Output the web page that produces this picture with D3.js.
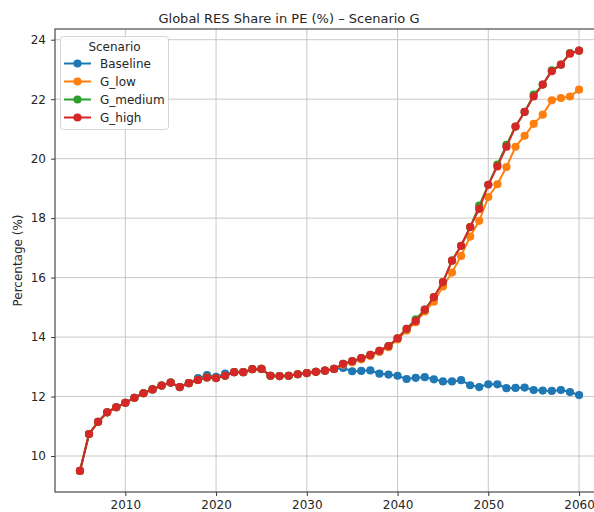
<!DOCTYPE html>
<html>
<head>
<meta charset="utf-8">
<script src="https://cdn.jsdelivr.net/npm/d3@7/dist/d3.min.js"></script>
<style>
  html, body { margin: 0; padding: 0; background: #fff; }
  svg { display: block; font-family: "DejaVu Sans", sans-serif; }
</style>
</head>
<body>
<svg id="chart" width="594" height="512"></svg>
<script>
// ---------------- DATA ----------------
const years = d3.range(2005, 2061);

const common = [9.50, 10.74, 11.15, 11.47, 11.64, 11.79, 11.96, 12.11, 12.24, 12.37,
  12.47, 12.32, 12.45, 12.56, 12.64, 12.62, 12.70, 12.82, 12.82, 12.92,
  12.93, 12.70, 12.69, 12.70, 12.75, 12.79, 12.83, 12.87, 12.93];

const baseline = [9.50, 10.74, 11.15, 11.47, 11.64, 11.79, 11.96, 12.11, 12.24, 12.37,
  12.47, 12.32, 12.45, 12.62, 12.72, 12.66, 12.77, 12.82, 12.82, 12.92,
  12.93, 12.70, 12.69, 12.70, 12.75, 12.79, 12.83, 12.87, 12.93,
  12.96, 12.85, 12.86, 12.88, 12.77, 12.74, 12.70, 12.59, 12.63, 12.65,
  12.58, 12.51, 12.51, 12.55, 12.38, 12.32, 12.41, 12.41, 12.28, 12.29,
  12.30, 12.22, 12.20, 12.19, 12.22, 12.15, 12.05];

const gLow = common.concat([13.07, 13.15, 13.25, 13.36, 13.50, 13.66, 13.92, 14.22, 14.50,
  14.86, 15.19, 15.70, 16.17, 16.73, 17.38, 17.91, 18.71, 19.14, 19.72,
  20.40, 20.77, 21.17, 21.48, 21.96, 22.04, 22.09, 22.32]);

const gMedium = common.concat([13.10, 13.19, 13.29, 13.40, 13.54, 13.70, 13.96, 14.28, 14.60,
  14.92, 15.34, 15.85, 16.57, 17.07, 17.70, 18.42, 19.12, 19.80, 20.46,
  21.08, 21.57, 22.15, 22.49, 22.97, 23.16, 23.55, 23.63]);

const gHigh = common.concat([13.10, 13.19, 13.29, 13.40, 13.54, 13.70, 13.96, 14.28, 14.54,
  14.92, 15.34, 15.85, 16.57, 17.07, 17.70, 18.31, 19.12, 19.74, 20.40,
  21.08, 21.57, 22.09, 22.49, 22.94, 23.16, 23.53, 23.63]);

const seriesNames = ["Baseline", "G_low", "G_medium", "G_high"];
const seriesValues = [baseline, gLow, gMedium, gHigh];
const seriesColors = ["#1f77b4", "#ff7f0e", "#2ca02c", "#d62728"];

const xTicks = [2010, 2020, 2030, 2040, 2050, 2060];
const yTicks = [10, 12, 14, 16, 18, 20, 22, 24];

const titleText = "Global RES Share in PE (%) \u2013 Scenario G";
const yLabelText = "Percentage (%)";
const legendTitle = "Scenario";

// ---------------- LAYOUT ----------------
const svg = d3.select("#chart");
const plot = { left: 55, right: 604, top: 29, bottom: 492 };

const x = d3.scaleLinear().domain([2002.25, 2062.75]).range([plot.left, plot.right]);
const y = d3.scaleLinear().domain([8.79, 24.36]).range([plot.bottom, plot.top]);

// grid
const grid = svg.append("g");
grid.selectAll("line.v").data(xTicks).join("line")
  .attr("x1", d => x(d)).attr("x2", d => x(d))
  .attr("y1", plot.top).attr("y2", plot.bottom)
  .attr("stroke", "#c8c8c8").attr("stroke-width", 1);
grid.selectAll("line.h").data(yTicks).join("line")
  .attr("x1", plot.left).attr("x2", plot.right)
  .attr("y1", d => y(d)).attr("y2", d => y(d))
  .attr("stroke", "#c8c8c8").attr("stroke-width", 1);

// series
const line = d3.line().x((d, i) => x(years[i])).y(d => y(d));
seriesValues.forEach((vals, si) => {
  const g = svg.append("g");
  g.append("path").datum(vals)
    .attr("d", line)
    .attr("fill", "none")
    .attr("stroke", seriesColors[si])
    .attr("stroke-width", 2);
  g.selectAll("circle").data(vals).join("circle")
    .attr("cx", (d, i) => x(years[i]))
    .attr("cy", d => y(d))
    .attr("r", 4.1)
    .attr("fill", seriesColors[si]);
});

// axes
const xAxis = d3.axisBottom(x).tickValues(xTicks).tickFormat(d3.format("d"))
  .tickSizeInner(4).tickSizeOuter(0).tickPadding(4);
const yAxis = d3.axisLeft(y).tickValues(yTicks).tickFormat(d3.format("d"))
  .tickSizeInner(4).tickSizeOuter(0).tickPadding(5);

const gx = svg.append("g").attr("transform", `translate(0,${plot.bottom})`).call(xAxis);
const gy = svg.append("g").attr("transform", `translate(${plot.left},0)`).call(yAxis);
[gx, gy].forEach(g => {
  g.selectAll("text").attr("font-size", 12).attr("fill", "#262626")
    .attr("font-family", "DejaVu Sans, sans-serif");
  g.selectAll(".tick line").attr("stroke", "#262626").attr("stroke-width", 0.9);
  g.select(".domain").remove();
});

// spines
svg.append("rect")
  .attr("x", plot.left).attr("y", plot.top)
  .attr("width", plot.right - plot.left).attr("height", plot.bottom - plot.top)
  .attr("fill", "none").attr("stroke", "#262626").attr("stroke-width", 1);

// title
svg.append("text").attr("x", 289).attr("y", 23)
  .attr("text-anchor", "middle").attr("font-size", 13).attr("fill", "#262626")
  .text(titleText);

// y label
svg.append("text")
  .attr("transform", `translate(22,${(plot.top + plot.bottom) / 2}) rotate(-90)`)
  .attr("text-anchor", "middle").attr("font-size", 12).attr("fill", "#262626")
  .text(yLabelText);

// legend
const leg = svg.append("g");
leg.append("rect").attr("x", 60.5).attr("y", 36.5).attr("width", 108).attr("height", 93)
  .attr("rx", 3).attr("fill", "#ffffff").attr("fill-opacity", 0.85)
  .attr("stroke", "#d5d5d5").attr("stroke-width", 1);
leg.append("text").attr("x", 114.5).attr("y", 51).attr("text-anchor", "middle")
  .attr("font-size", 12).attr("fill", "#262626").text(legendTitle);
seriesNames.forEach((name, i) => {
  const cy = 63.5 + i * 18;
  leg.append("line").attr("x1", 64).attr("x2", 91).attr("y1", cy).attr("y2", cy)
    .attr("stroke", seriesColors[i]).attr("stroke-width", 2);
  leg.append("circle").attr("cx", 77.5).attr("cy", cy).attr("r", 4.1)
    .attr("fill", seriesColors[i]);
  leg.append("text").attr("x", 100).attr("y", cy + 4.3)
    .attr("font-size", 12).attr("fill", "#262626").text(name);
});
</script>
</body>
</html>
